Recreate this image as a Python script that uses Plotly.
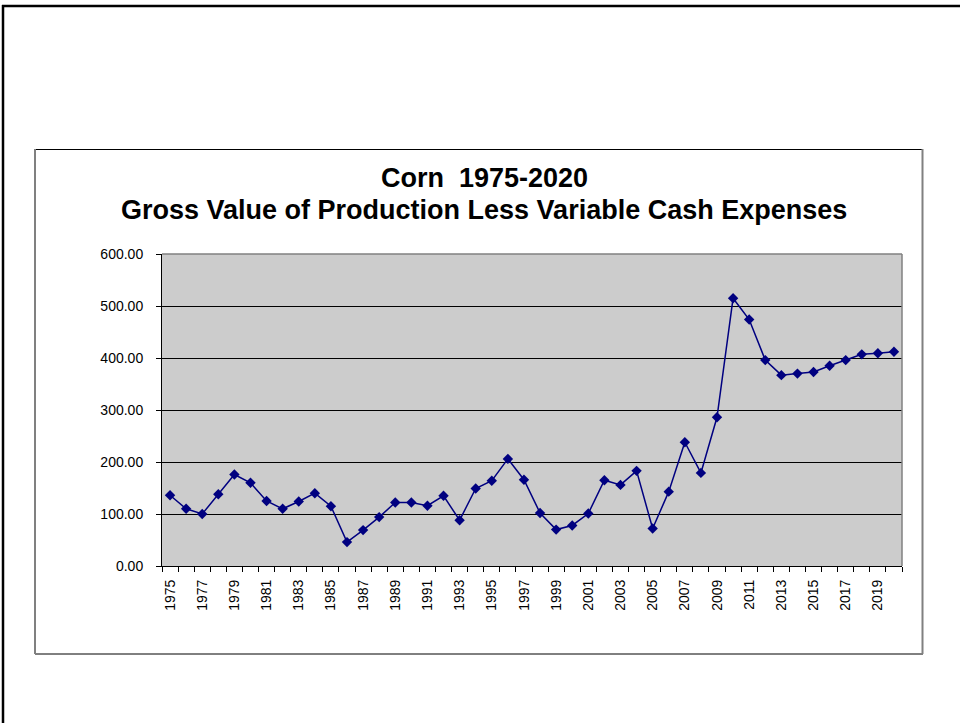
import plotly.graph_objects as go

years = list(range(1975, 2021))
values = [136, 110, 100, 138, 176, 160, 125, 110, 124, 140, 115, 46, 69, 94, 122,
          122, 116, 135, 88, 149, 164, 206, 166, 102, 70, 78, 101, 165, 156, 183,
          72, 143, 238, 179, 286, 515, 474, 396, 367, 370, 373, 385, 396, 407, 409, 412]
y_ticks = [0, 100, 200, 300, 400, 500, 600]
title_lines = ["Corn  1975-2020", "Gross Value of Production Less Variable Cash Expenses"]

W, H = 960, 723
L, R, T, B = 162, 58, 254, 157
PW, PH = W - L - R, H - T - B

def px(x):
    return (x - L) / PW

def py(y):
    return (H - B - y) / PH

fig = go.Figure()
fig.add_trace(go.Scatter(
    x=years, y=values, mode="lines+markers",
    line=dict(color="#000080", width=1.5),
    marker=dict(symbol="diamond", size=8, color="#000080"),
    showlegend=False, hoverinfo="x+y",
))

font_family = "Arial, Liberation Sans, sans-serif"

fig.update_layout(
    width=W, height=H, autosize=False,
    margin=dict(l=L, r=R, t=T, b=B, pad=0),
    paper_bgcolor="white", plot_bgcolor="#CCCCCC",
    font=dict(family=font_family, color="black"),
    xaxis=dict(
        range=[1974.5, 2020.5], tickmode="array",
        tickvals=years[::2], ticktext=[str(y) for y in years[::2]],
        tickangle=-90, ticks="", showgrid=False, zeroline=False,
        showline=True, linecolor="black", linewidth=1,
        tickfont=dict(size=14, color="black"),
        minor=dict(tick0=1974.5, dtick=1, ticks="outside", ticklen=5,
                   tickcolor="black", tickwidth=1, showgrid=False),
        ticklabelstandoff=7,
    ),
    yaxis=dict(
        range=[0, 600], tickvals=y_ticks, tickformat=".2f",
        ticks="outside", ticklen=5, tickcolor="black",
        showgrid=True, gridcolor="black", gridwidth=1, zeroline=False,
        showline=True, linecolor="black", linewidth=1,
        tickfont=dict(size=14, color="black"),
        ticklabelstandoff=10,
    ),
)

shapes = []
# outer frame
shapes.append(dict(type="line", xref="paper", yref="paper", x0=px(2), x1=px(960), y0=py(6), y1=py(6),
                   line=dict(color="black", width=2.5)))
shapes.append(dict(type="line", xref="paper", yref="paper", x0=px(3), x1=px(3), y0=py(5), y1=py(723),
                   line=dict(color="black", width=2.5)))
# chart box
shapes.append(dict(type="line", xref="paper", yref="paper", x0=px(35), x1=px(923), y0=py(149.5), y1=py(149.5),
                   line=dict(color="black", width=1)))
shapes.append(dict(type="line", xref="paper", yref="paper", x0=px(35), x1=px(923), y0=py(654), y1=py(654),
                   line=dict(color="black", width=1)))
shapes.append(dict(type="line", xref="paper", yref="paper", x0=px(35), x1=px(35), y0=py(149), y1=py(654),
                   line=dict(color="#808080", width=2)))
shapes.append(dict(type="line", xref="paper", yref="paper", x0=px(922.5), x1=px(922.5), y0=py(149), y1=py(654),
                   line=dict(color="#808080", width=2)))
# plot area top/right border
shapes.append(dict(type="line", xref="paper", yref="paper", x0=0, x1=1, y0=1, y1=1,
                   line=dict(color="#808080", width=1.5), layer="above"))
shapes.append(dict(type="line", xref="paper", yref="paper", x0=1, x1=1, y0=0, y1=1,
                   line=dict(color="#808080", width=1.5), layer="above"))
fig.update_layout(shapes=shapes)

for txt, yc in zip(title_lines, [178, 210]):
    fig.add_annotation(text="<b>%s</b>" % txt, xref="paper", yref="paper",
                       x=px(484), y=py(yc), xanchor="center", yanchor="middle",
                       showarrow=False, font=dict(size=27, family=font_family, color="black"))

fig.write_html("out.html", config={"displayModeBar": False},
               post_script="document.body.style.margin='0';")
